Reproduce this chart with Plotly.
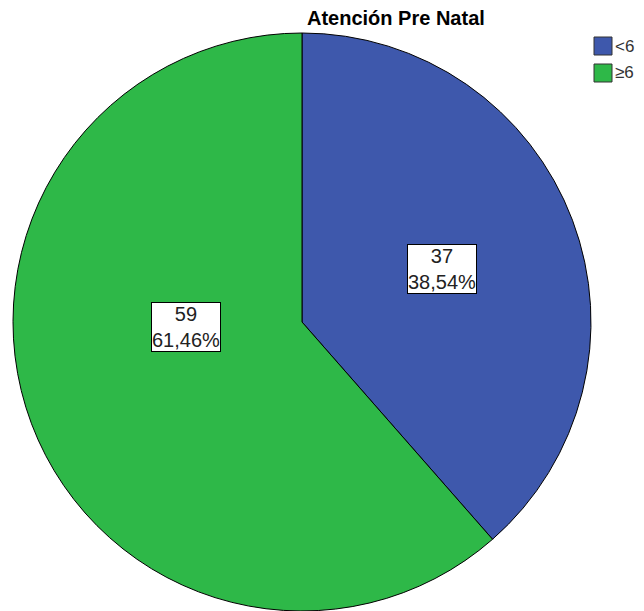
import plotly.graph_objects as go

# ---- data ----
categories = ["<6", "≥6"]
counts = [37, 59]
colors = ["#3E58AC", "#2EB848"]
title_text = "Atención Pre Natal"

total = sum(counts)
pct_labels = [f"{c}<br>{(100 * c / total):.2f}%".replace(".", ",") for c in counts]

# page has an 8px body margin: figure is sized to fit and coordinates are offset
OFF = 8
W, H = 644 - OFF, 611 - OFF
FONT = "Liberation Sans, Arial, sans-serif"


def px(x):
    return (x - OFF) / W


def py(y):
    return 1 - (y - OFF) / H


fig = go.Figure()
fig.add_trace(go.Pie(
    labels=categories,
    values=counts,
    marker=dict(colors=colors, line=dict(color="#000000", width=1)),
    sort=False,
    direction="clockwise",
    rotation=0,
    textinfo="none",
    hoverinfo="label+value+percent",
    showlegend=False,
    domain=dict(x=[px(12), px(592)], y=[0, py(33)]),
))

# value labels (boxed)
label_pos = [(441.5, 269), (185.5, 326.5)]
annotations = []
for (lx, ly), txt in zip(label_pos, pct_labels):
    annotations.append(dict(
        x=px(lx), y=py(ly), xref="paper", yref="paper",
        text=txt, showarrow=False, align="center",
        font=dict(family=FONT, size=20, color="#222222"),
        bgcolor="#FFFFFF", bordercolor="#000000", borderwidth=1, borderpad=0,
        xanchor="center", yanchor="middle",
    ))

# title
annotations.append(dict(
    x=px(396), y=py(18), xref="paper", yref="paper",
    text=f"<b>{title_text}</b>", showarrow=False,
    font=dict(family=FONT, size=20, color="#000000"),
    xanchor="center", yanchor="middle",
))

# custom legend
shapes = []
for i, (cat, col) in enumerate(zip(categories, colors)):
    y0 = 37 + i * 27
    shapes.append(dict(
        type="rect", xref="paper", yref="paper",
        x0=px(594), x1=px(612), y0=py(y0), y1=py(y0 + 18),
        fillcolor=col, line=dict(color="#333333", width=1),
    ))
    annotations.append(dict(
        x=px(613), y=py(y0 + 9), xref="paper", yref="paper",
        text=cat, showarrow=False,
        font=dict(family=FONT, size=17, color="#333333"),
        xanchor="left", yanchor="middle",
    ))

fig.update_layout(
    width=W, height=H,
    margin=dict(l=0, r=0, t=0, b=0),
    paper_bgcolor="#FFFFFF", plot_bgcolor="#FFFFFF",
    annotations=annotations, shapes=shapes,
    showlegend=False,
)

fig.write_html("out.html")
